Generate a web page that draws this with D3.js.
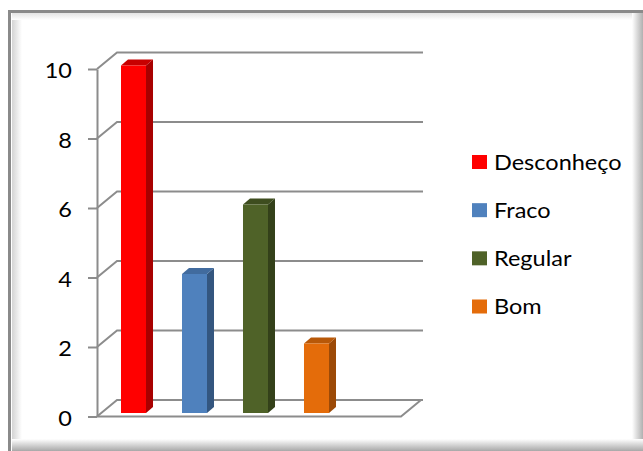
<!DOCTYPE html>
<html><head><meta charset="utf-8">
<script src="https://cdn.jsdelivr.net/npm/d3@7"></script>
<style>body{margin:0;background:#fff;}svg{display:block;}</style>
</head><body>
<svg id="c" width="643" height="451"></svg>
<script>
const series = ["Desconheço", "Fraco", "Regular", "Bom"];
const values = [10, 4, 6, 2];
const tickValues = [0, 2, 4, 6, 8, 10];
const tickLabels = ["0", "2", "4", "6", "8", "10"];
const faceColors = ["#FF0000", "#4F81BD", "#4F6228", "#E46C0A"];
const sideColors = ["#A80000", "#34567F", "#34411A", "#9C4A07"];
const topColors  = ["#C80000", "#416B9E", "#3E4D1F", "#B85808"];

const svg = d3.select("#c");
const font = "Lato, 'Open Sans', sans-serif";
const stretch = 1.12;

// frame with inner shadows
const defs = svg.append("defs");
function grad(id, x1,y1,x2,y2, c1, c2){
  const g = defs.append("linearGradient").attr("id",id).attr("x1",x1).attr("y1",y1).attr("x2",x2).attr("y2",y2);
  g.append("stop").attr("offset","0").attr("stop-color",c1);
  g.append("stop").attr("offset","1").attr("stop-color",c2);
}
grad("gl",0,0,1,0,"#d4d4d4","#ffffff");
grad("gt",0,0,0,1,"#e4e4e4","#ffffff");
grad("gr",0,0,1,0,"#ffffff","#b0b0b0");
grad("gb",0,0,0,1,"#ffffff","#a8a8a8");
svg.append("rect").attr("x",12).attr("y",13).attr("width",10).attr("height",440).attr("fill","url(#gl)");
svg.append("rect").attr("x",12).attr("y",13).attr("width",640).attr("height",7).attr("fill","url(#gt)");
svg.append("rect").attr("x",632).attr("y",13).attr("width",11).attr("height",440).attr("fill","url(#gr)");
svg.append("rect").attr("x",12).attr("y",439).attr("width",640).attr("height",12).attr("fill","url(#gb)");
svg.append("line").attr("x1",9.5).attr("x2",9.5).attr("y1",10).attr("y2",451).attr("stroke","#8a8a8a").attr("stroke-width",3);
svg.append("line").attr("x1",9).attr("x2",643).attr("y1",11.5).attr("y2",11.5).attr("stroke","#8a8a8a").attr("stroke-width",3);

// scales
const y = d3.scaleLinear().domain([0, 10]).range([416.5, 69]);
const x = d3.scaleBand().domain(series).range([121, 329]).paddingInner(0.59).paddingOuter(0);
const axisX = 97, depthX = 20, depthY = 16.5, plotRight = 403;
const gridColor = "#8c8c8c";

// back gridlines
const grid = svg.append("g");
tickValues.forEach(v => {
  const yy = y(v);
  grid.append("path")
    .attr("d", `M${axisX},${yy} L${axisX+depthX},${yy-depthY} L${plotRight+depthX},${yy-depthY}`)
    .attr("fill","none").attr("stroke",gridColor).attr("stroke-width",2);
});
// floor front & right edges
grid.append("path")
  .attr("d", `M${axisX},${y(0)} L${plotRight-2},${y(0)} L${plotRight+depthX-2},${y(0)-depthY}`)
  .attr("fill","none").attr("stroke",gridColor).attr("stroke-width",2);

// axis
const axis = d3.axisLeft(y).tickValues(tickValues).tickFormat((d,i)=>tickLabels[i])
  .tickSize(9).tickSizeOuter(0).tickPadding(16);
const ag = svg.append("g").attr("transform",`translate(${axisX},0)`).call(axis);
ag.select(".domain").attr("stroke",gridColor).attr("stroke-width",2);
ag.selectAll(".tick line").attr("stroke",gridColor).attr("stroke-width",2);
ag.selectAll(".tick text").attr("font-family",font).attr("font-size",21).attr("fill","#000")
  .attr("dy","0.42em")
  .attr("transform", function(){ const tx = +d3.select(this).attr("x"); return `translate(${tx*(1-stretch)},0) scale(${stretch},1)`; });

// bars
const bw = x.bandwidth(), bdx = 7, bdy = 6, off = 3.5;
const bars = svg.append("g");
series.forEach((s,i)=>{
  const x0 = x(s), x1 = x0 + bw, yt = y(values[i]) - off, yb = y(0) - off;
  bars.append("path").attr("d",`M${x1},${yt} L${x1+bdx},${yt-bdy} L${x1+bdx},${yb-bdy} L${x1},${yb}Z`).attr("fill",sideColors[i]);
  bars.append("path").attr("d",`M${x0},${yt} L${x0+bdx},${yt-bdy} L${x1+bdx},${yt-bdy} L${x1},${yt}Z`).attr("fill",topColors[i]);
  bars.append("rect").attr("x",x0).attr("y",yt).attr("width",bw).attr("height",yb-yt).attr("fill",faceColors[i]);
});

// legend
const legY = d3.scalePoint().domain(series).range([162, 306.5]);
const lg = svg.append("g");
series.forEach((s,i)=>{
  const cy = legY(s);
  lg.append("rect").attr("x",472).attr("y",cy-7).attr("width",15).attr("height",14).attr("fill",faceColors[i]);
  lg.append("text").attr("transform",`translate(494,${cy}) scale(${stretch},1)`).attr("dy","0.36em")
    .attr("font-family",font).attr("font-size",21).attr("fill","#000").text(s);
});
</script>
</body></html>
